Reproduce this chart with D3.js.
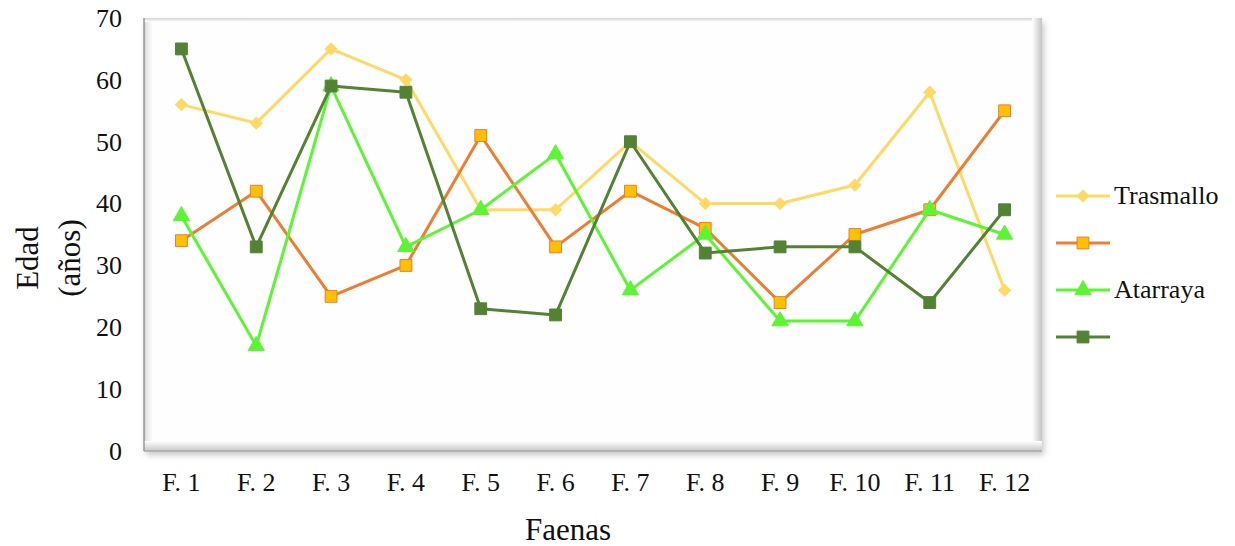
<!DOCTYPE html>
<html>
<head>
<meta charset="utf-8">
<script src="https://cdn.jsdelivr.net/npm/d3@7"></script>
<style>
  html, body { margin: 0; padding: 0; background: #fff; }
  svg text { font-family: "Liberation Serif", "Times New Roman", serif; fill: #111; }
</style>
</head>
<body>
<div id="chart"></div>
<script>
const categories = ["F. 1", "F. 2", "F. 3", "F. 4", "F. 5", "F. 6", "F. 7", "F. 8", "F. 9", "F. 10", "F. 11", "F. 12"];
const trasmallo = [56, 53, 65, 60, 39, 39, 50, 40, 40, 43, 58, 26];
const naranja = [34, 42, 25, 30, 51, 33, 42, 36, 24, 35, 39, 55];
const atarraya = [38, 17, 59, 33, 39, 48, 26, 35, 21, 21, 39, 35];
const verde = [65, 33, 59, 58, 23, 22, 50, 32, 33, 33, 24, 39];
const yTicks = [0, 10, 20, 30, 40, 50, 60, 70];

const series = [
  { name: "Trasmallo", values: trasmallo, line: "#FFD966", fill: "#FFD966", stroke: "#FFD966", shape: "diamond" },
  { name: "", values: naranja, line: "#ED7D31", fill: "#FFC000", stroke: "#ED7D31", shape: "square" },
  { name: "Atarraya", values: atarraya, line: "#5CF533", fill: "#5CF533", stroke: "#5CF533", shape: "triangle" },
  { name: "", values: verde, line: "#548235", fill: "#548235", stroke: "#548235", shape: "square" }
];

const W = 1235, H = 546;
const plot = { left: 144, top: 18, right: 1042, bottom: 451 };

const svg = d3.select("#chart").append("svg").attr("width", W).attr("height", H);
const defs = svg.append("defs");

// bevel gradients for the frame
function grad(id, x1, y1, x2, y2, stops) {
  const g = defs.append("linearGradient").attr("id", id)
    .attr("x1", x1).attr("y1", y1).attr("x2", x2).attr("y2", y2);
  stops.forEach(s => g.append("stop").attr("offset", s[0]).attr("stop-color", s[1]));
}
grad("gl", 0, 0, 1, 0, [[0, "#bdbdbd"], [0.25, "#e6e6e6"], [1, "#ffffff"]]);
grad("gt", 0, 0, 0, 1, [[0, "#d4d4d4"], [1, "#ffffff"]]);
grad("gr", 0, 0, 1, 0, [[0, "#ffffff"], [0.6, "#dcdcdc"], [1, "#c4c4c4"]]);
grad("gb", 0, 0, 0, 1, [[0, "#ffffff"], [0.6, "#dedede"], [1, "#c8c8c8"]]);
const sh = defs.append("filter").attr("id", "shadow").attr("x", "-5%").attr("y", "-5%").attr("width", "110%").attr("height", "115%");
sh.append("feDropShadow").attr("dx", 2).attr("dy", 4).attr("stdDeviation", 3).attr("flood-color", "#000").attr("flood-opacity", 0.22);

const pw = plot.right - plot.left, ph = plot.bottom - plot.top;
svg.append("rect").attr("x", plot.left).attr("y", plot.top).attr("width", pw).attr("height", ph)
  .attr("fill", "#fefefe").attr("filter", "url(#shadow)");
svg.append("rect").attr("x", plot.left).attr("y", plot.top).attr("width", 9).attr("height", ph).attr("fill", "url(#gl)");
svg.append("rect").attr("x", plot.left).attr("y", plot.top).attr("width", pw).attr("height", 4).attr("fill", "url(#gt)");
svg.append("rect").attr("x", plot.right - 10).attr("y", plot.top).attr("width", 10).attr("height", ph).attr("fill", "url(#gr)");
svg.append("rect").attr("x", plot.left).attr("y", plot.bottom - 10).attr("width", pw).attr("height", 10).attr("fill", "url(#gb)");
svg.append("line").attr("x1", plot.left).attr("x2", plot.left).attr("y1", plot.top).attr("y2", plot.bottom)
  .attr("stroke", "#9a9a9a").attr("stroke-width", 1.5);
svg.append("line").attr("x1", plot.left).attr("x2", plot.right).attr("y1", plot.bottom).attr("y2", plot.bottom)
  .attr("stroke", "#a8a8a8").attr("stroke-width", 1.5);

const x = d3.scaleBand().domain(categories).range([plot.left, plot.right]);
const y = d3.scaleLinear().domain([0, 70]).range([plot.bottom, plot.top]);

// axes (labels only)
const yAxis = svg.append("g").attr("transform", `translate(${plot.left},0)`)
  .call(d3.axisLeft(y).tickValues(yTicks).tickSize(0).tickPadding(22));
yAxis.select(".domain").remove();
yAxis.selectAll("text").style("font-size", "26px").attr("font-family", null);

const xAxis = svg.append("g").attr("transform", `translate(0,${plot.bottom})`)
  .call(d3.axisBottom(x).tickSize(0).tickPadding(22));
xAxis.select(".domain").remove();
xAxis.selectAll("text").style("font-size", "26px").attr("font-family", null);

// axis titles
svg.append("text").attr("x", 568).attr("y", 540).attr("text-anchor", "middle")
  .style("font-size", "31px").text("Faenas");
const yt = svg.append("text").attr("transform", "translate(38,258) rotate(-90)")
  .attr("text-anchor", "middle").style("font-size", "31px");
yt.append("tspan").attr("x", 0).attr("dy", 0).text("Edad");
yt.append("tspan").attr("x", 0).attr("dy", 42).text("(años)");

const symbolFor = { diamond: d3.symbolSquare, square: d3.symbolSquare, triangle: d3.symbolTriangle };
const sizeFor = { diamond: 70, square: 140, triangle: 115 };
const rotFor = { diamond: 45, square: 0, triangle: 0 };

const cx = i => x(categories[i]) + x.bandwidth() / 2;
const line = d3.line().x((d, i) => cx(i)).y(d => y(d));

series.forEach(s => {
  const g = svg.append("g");
  g.append("path").datum(s.values).attr("d", line).attr("fill", "none")
    .attr("stroke", s.line).attr("stroke-width", 3).attr("stroke-linejoin", "round");
  g.selectAll("path.m").data(s.values).enter().append("path").attr("class", "m")
    .attr("transform", (d, i) => `translate(${cx(i)},${y(d)}) rotate(${rotFor[s.shape]})`)
    .attr("d", d3.symbol().type(symbolFor[s.shape]).size(sizeFor[s.shape]))
    .attr("fill", s.fill).attr("stroke", s.stroke).attr("stroke-width", 1);
});

// legend
const leg = svg.append("g");
series.forEach((s, i) => {
  const ly = 196 + i * 47;
  leg.append("line").attr("x1", 1056).attr("x2", 1110).attr("y1", ly).attr("y2", ly)
    .attr("stroke", s.line).attr("stroke-width", 3);
  leg.append("path").attr("transform", `translate(1083,${ly}) rotate(${rotFor[s.shape]})`)
    .attr("d", d3.symbol().type(symbolFor[s.shape]).size(sizeFor[s.shape]))
    .attr("fill", s.fill).attr("stroke", s.stroke).attr("stroke-width", 1);
  leg.append("text").attr("x", 1114).attr("y", ly + 8).style("font-size", "26px").text(s.name);
});
</script>
</body>
</html>
